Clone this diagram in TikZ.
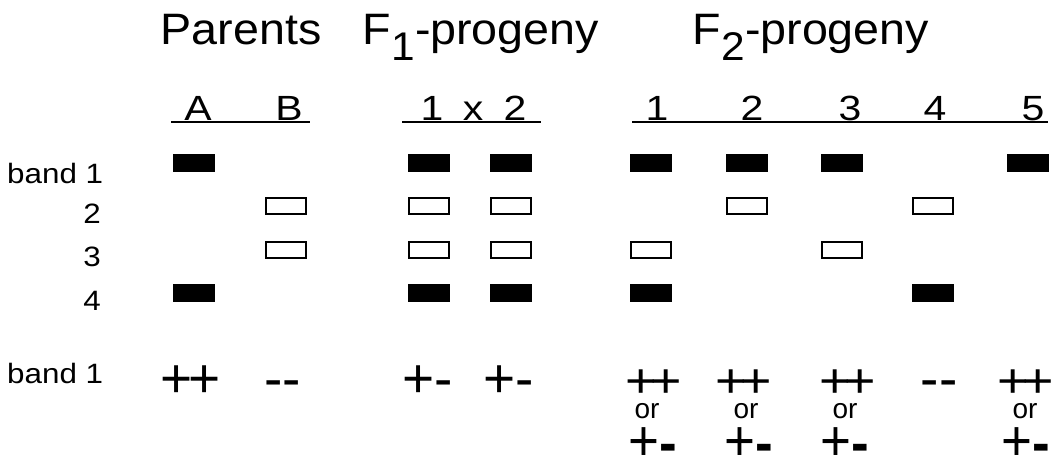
\documentclass[tikz,border=0pt]{standalone}
\usepackage{fontspec}
\setmainfont{Liberation Sans}

\begin{document}
\begin{tikzpicture}[x=1pt, y=-1pt, inner sep=0pt,
  fullband/.style={fill=black, minimum width=42pt, minimum height=18pt},
  openband/.style={draw=black, line width=2pt, fill=white, minimum width=40pt, minimum height=16pt},
  title/.style={anchor=base, xscale=1.06, font=\fontsize{44}{44}\selectfont},
  colhead/.style={anchor=base, xscale=1.17, font=\fontsize{35}{35}\selectfont},
  rowlab/.style={xscale=1.12, font=\fontsize{28}{28}\selectfont},
  sign/.style={anchor=base, font=\fontsize{55}{55}\selectfont},
  signwide/.style={anchor=base, xscale=1.12, font=\fontsize{48}{48}\selectfont},
  ortext/.style={anchor=base, font=\fontsize{28}{28}\selectfont},
  signlow/.style={anchor=base, xscale=0.93, font=\fontsize{57}{57}\selectfont}]
  \useasboundingbox (0,0) rectangle (1062,457);

  % Titles
  \node (tpar) [title] at (241,45) {Parents};
  \node (tfa) [title] at (481,45) {F\raisebox{-16pt}{\fontsize{40}{40}\selectfont 1}-progeny};
  \node (tfb) [title] at (811,45) {F\raisebox{-16pt}{\fontsize{40}{40}\selectfont 2}-progeny};

  % Column heads
  \node (hA) [colhead] at (198,121) {A};
  \node (hB) [colhead] at (289,121) {B};
  \node (h1) [colhead] at (432,121) {1};
  \node (hx) [colhead] at (473,121) {x};
  \node (h2) [colhead] at (515,121) {2};
  \node (g1) [colhead] at (657,121) {1};
  \node (g2) [colhead] at (752,121) {2};
  \node (g3) [colhead] at (850,121) {3};
  \node (g4) [colhead] at (935,121) {4};
  \node (g5) [colhead] at (1033,121) {5};
  \draw[line width=2pt] (171,122) -- (310,122);
  \draw[line width=2pt] (402,122) -- (541,122);
  \draw[line width=2pt] (632,122) -- (1048,122);

  % Row labels
  \node (lb1) [rowlab, anchor=base west] at (7,183) {band 1};
  \node (lb2) [rowlab, anchor=base east] at (101,223) {2};
  \node (lb3) [rowlab, anchor=base east] at (101,266) {3};
  \node (lb4) [rowlab, anchor=base east] at (101,310) {4};

  % Parents
  \node (a1) [fullband] at (193.5,163) {};
  \node (a4) [fullband] at (193.5,293) {};
  \node (b2) [openband] at (285.5,206) {};
  \node (b3) [openband] at (285.5,250) {};

  % F1-progeny
  \node (p1) [fullband] at (429,163) {};
  \node (p2) [openband] at (429,206) {};
  \node (p3) [openband] at (429,250) {};
  \node (p4) [fullband] at (429,293) {};
  \node (q1) [fullband] at (511,163) {};
  \node (q2) [openband] at (511,206) {};
  \node (q3) [openband] at (511,250) {};
  \node (q4) [fullband] at (511,293) {};

  % F2-progeny
  \node (c1) [fullband] at (651,163) {};
  \node (c3) [openband] at (651,250) {};
  \node (c4) [fullband] at (651,293) {};
  \node (d1) [fullband] at (747,163) {};
  \node (d2) [openband] at (747,206) {};
  \node (e1) [fullband] at (842,163) {};
  \node (e3) [openband] at (842,250) {};
  \node (f2) [openband] at (933,206) {};
  \node (f4) [fullband] at (933,293) {};
  \node (k1) [fullband] at (1028,163) {};

  % Genotypes for band 1
  \node (lgt) [rowlab, anchor=base west] at (7,383) {band 1};
  \node (sa) [sign] at (190.5,397) {+\kern-5pt+};
  \node (sb) [sign] at (282.5,397) {-{}-};
  \node (s1) [sign] at (427.5,397) {+-};
  \node (s2) [sign] at (508.5,397) {+-};

  \node (u1) [signwide] at (654,397.5) {+\kern-6pt+};
  \node (u2) [signwide] at (744,397.5) {+\kern-6pt+};
  \node (u3) [signwide] at (848,397.5) {+\kern-6pt+};
  \node (u4) [sign] at (939,397) {-{}-};
  \node (u5) [signwide] at (1026,397.5) {+\kern-6pt+};
  \node (o1) [ortext] at (647,418) {or};
  \node (o2) [ortext] at (746,418) {or};
  \node (o3) [ortext] at (845,418) {or};
  \node (o5) [ortext] at (1025,418) {or};
  \node (v1) [signlow] at (653,460) {+\raisebox{-2pt}[\height][0pt]{\bfseries -}};
  \node (v2) [signlow] at (749,460) {+\raisebox{-2pt}[\height][0pt]{\bfseries -}};
  \node (v3) [signlow] at (845,460) {+\raisebox{-2pt}[\height][0pt]{\bfseries -}};
  \node (v5) [signlow] at (1026,460) {+\raisebox{-2pt}[\height][0pt]{\bfseries -}};

\end{tikzpicture}
\end{document}
